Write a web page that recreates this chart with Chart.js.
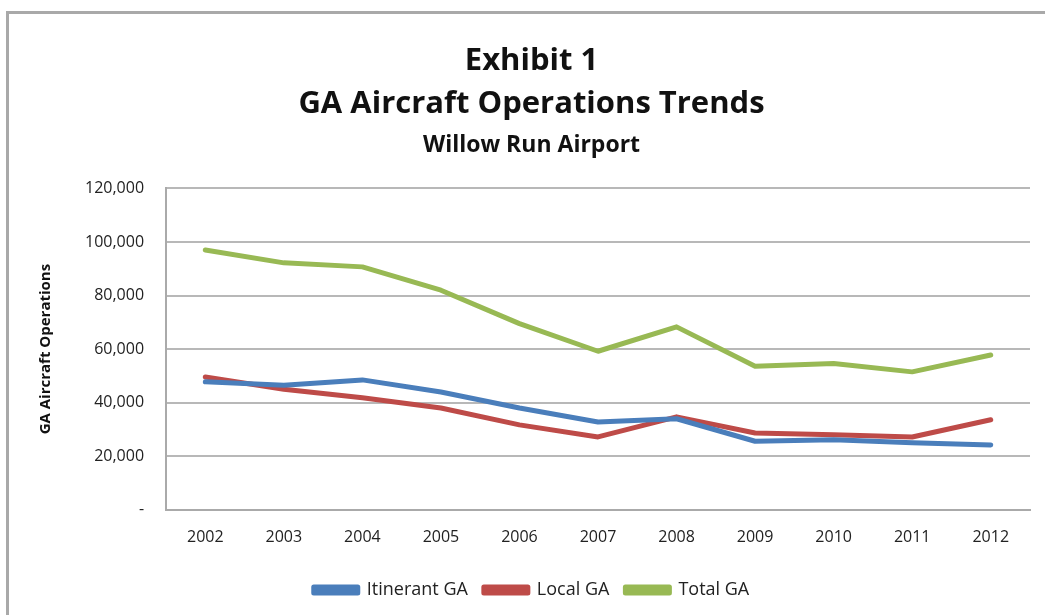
<!DOCTYPE html>
<html>
<head>
<meta charset="utf-8">
<script src="https://cdn.jsdelivr.net/npm/chart.js@4"></script>
<style>
  html, body { margin: 0; padding: 0; background: #fff; }
  #wrap { position: relative; width: 1045px; height: 615px; }
  #frame { position: absolute; left: 6px; top: 11px; width: 1060px; height: 640px;
           border-left: 3px solid #a9a9a9; border-top: 3px solid #a9a9a9; }
  canvas { position: absolute; left: 0; top: 0; }
</style>
</head>
<body>
<div id="wrap">
  <div id="frame"></div>
  <canvas id="chart" width="1045" height="615"></canvas>
</div>
<script>
const years = ['2002', '2003', '2004', '2005', '2006', '2007', '2008', '2009', '2010', '2011', '2012'];
const itinerantGA = [47800, 46500, 48500, 44000, 38000, 32800, 34000, 25600, 26200, 25000, 24200];
const localGA = [49600, 45000, 41800, 38000, 31700, 27200, 34700, 28700, 28000, 27200, 33600];
const totalGA = [97000, 92200, 90700, 82000, 69500, 59200, 68300, 53600, 54600, 51500, 57800];

const font = "'Open Sans', 'Liberation Sans', sans-serif";

const cfg = {
  type: 'line',
  data: {
    labels: years,
    datasets: [{
      label: 'Itinerant GA',
      data: itinerantGA,
      borderColor: '#4a7ebb',
      backgroundColor: '#4a7ebb'
    }, {
      label: 'Local GA',
      data: localGA,
      borderColor: '#be4b48',
      backgroundColor: '#be4b48'
    }, {
      label: 'Total GA',
      data: totalGA,
      borderColor: '#98b954',
      backgroundColor: '#98b954'
    }]
  },
  options: {
    responsive: false,
    animation: false,
    layout: { padding: { left: 33, right: 15, top: 39, bottom: 6 } },
    elements: {
      line: { borderWidth: 5, tension: 0, borderCapStyle: 'round', borderJoinStyle: 'round' },
      point: { radius: 0, hoverRadius: 0 }
    },
    plugins: {
      title: {
        display: true,
        text: ['Exhibit 1', 'GA Aircraft Operations Trends'],
        color: '#111',
        font: { family: font, size: 31, weight: 'bold', lineHeight: 1.4 },
        padding: { top: 0, bottom: 0 }
      },
      subtitle: {
        display: true,
        text: 'Willow Run Airport',
        color: '#111',
        font: { family: font, size: 23, weight: 'bold' },
        padding: { top: 6, bottom: 29 }
      },
      legend: {
        position: 'bottom',
        labels: {
          color: '#222',
          font: { family: font, size: 18 },
          boxWidth: 44,
          boxHeight: 6,
          padding: 16
        }
      },
      tooltip: { enabled: false }
    },
    scales: {
      x: {
        offset: true,
        grid: { display: false, drawTicks: false },
        border: { display: true, color: '#aaa', width: 2 },
        ticks: { color: '#222', font: { family: font, size: 16 }, padding: 18 }
      },
      y: {
        min: 0,
        max: 120000,
        grid: { color: '#b8b8b8', lineWidth: 2, drawTicks: false },
        border: { display: true, color: '#aaa', width: 2 },
        ticks: {
          stepSize: 20000,
          color: '#222',
          font: { family: font, size: 16 },
          padding: 22,
          callback: v => v === 0 ? '-' : v.toLocaleString('en-US')
        },
        title: {
          display: true,
          text: 'GA Aircraft Operations',
          color: '#111',
          font: { family: font, size: 15, weight: 'bold' },
          padding: { bottom: 8 }
        }
      }
    }
  }
};

const chart = new Chart(document.getElementById('chart'), cfg);
</script>
</body>
</html>
